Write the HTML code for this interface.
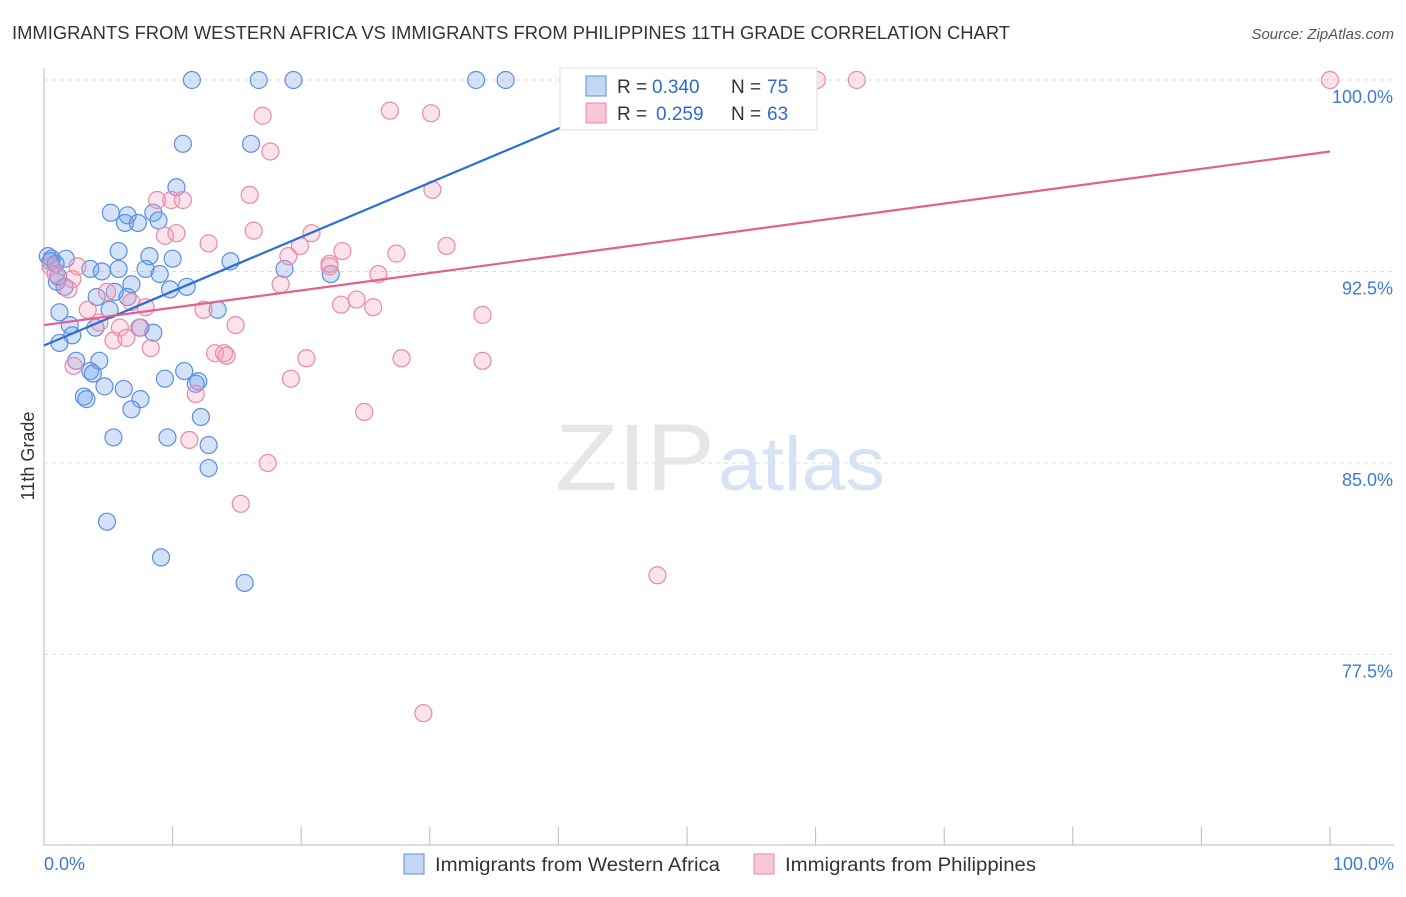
<!DOCTYPE html>
<html><head><meta charset="utf-8"><style>
body{margin:0;background:#fff;font-family:"Liberation Sans",sans-serif}
svg text{font-family:"Liberation Sans",sans-serif}
</style></head><body>
<svg width="1406" height="892" xmlns="http://www.w3.org/2000/svg">
<text x="12" y="39" font-size="18" fill="#333" textLength="998" lengthAdjust="spacingAndGlyphs">IMMIGRANTS FROM WESTERN AFRICA VS IMMIGRANTS FROM PHILIPPINES 11TH GRADE CORRELATION CHART</text>
<text x="1394" y="39" font-size="15" fill="#555" font-style="italic" text-anchor="end">Source: ZipAtlas.com</text>
<g id="grid"></g>
<text x="555" y="490" font-size="95" fill="#e6e6e6" textLength="160" lengthAdjust="spacingAndGlyphs" font-family="Liberation Serif">ZIP</text>
<text x="718" y="490" font-size="76" fill="#d6e3f5" textLength="167" lengthAdjust="spacingAndGlyphs">atlas</text>
<g id="axes"></g>
<g id="pts"></g>
<g id="trend"></g>
<g>
<rect x="560" y="68" width="257" height="62" fill="#fff" stroke="#ddd"/>
<rect x="586" y="76" width="20" height="20" fill="#c4d8f6" stroke="#5b8fe0"/>
<rect x="586" y="103" width="20" height="20" fill="#f8c8d6" stroke="#e88aa8"/>
<text x="617" y="93" font-size="19" fill="#333">R =</text>
<text x="652" y="93" font-size="19" fill="#2e6ad0">0.340</text>
<text x="731" y="93" font-size="19" fill="#333">N =</text>
<text x="767" y="93" font-size="19" fill="#2e6ad0">75</text>
<text x="617" y="120" font-size="19" fill="#333">R =</text>
<text x="656" y="120" font-size="19" fill="#2e6ad0">0.259</text>
<text x="731" y="120" font-size="19" fill="#333">N =</text>
<text x="767" y="120" font-size="19" fill="#2e6ad0">63</text>
</g>
<text x="34" y="456" font-size="18" fill="#333" text-anchor="middle" transform="rotate(-90 34 456)">11th Grade</text>
<text x="44" y="870" font-size="18" fill="#3d7ad6">0.0%</text>
<text x="1394" y="870" font-size="18" fill="#3d7ad6" text-anchor="end">100.0%</text>
<g>
<rect x="404" y="854" width="20" height="20" fill="#c4d8f6" stroke="#5b8fe0"/>
<text x="435" y="871" font-size="19" fill="#333" textLength="285" lengthAdjust="spacingAndGlyphs">Immigrants from Western Africa</text>
<rect x="754" y="854" width="20" height="20" fill="#f8c8d6" stroke="#e88aa8"/>
<text x="785" y="871" font-size="19" fill="#333" textLength="251" lengthAdjust="spacingAndGlyphs">Immigrants from Philippines</text>
</g>
</svg>
<script>
const yTicks=[100,92.5,85,77.5];
const yTickLabels=["100.0%","92.5%","85.0%","77.5%"];
const xTicks=[0,10,20,30,40,50,60,70,80,90,100];
const blueX=[11.5,16.7,19.4,33.6,35.9,10.8,16.1,10.3,5.2,6.5,8.5,6.3,7.3,8.9,0.3,0.6,1.7,5.8,8.2,10.0,14.5,3.6,4.5,5.8,7.9,9.0,18.7,22.3,1.0,1.6,6.8,11.1,9.8,5.5,4.1,6.5,13.5,5.1,1.2,2.0,4.0,7.5,8.5,2.2,1.2,2.5,4.3,3.6,3.8,10.9,9.4,12.0,11.8,4.7,6.2,3.1,3.3,7.5,6.8,12.2,5.4,9.6,12.8,12.8,4.9,9.1,15.6,0.5,0.9,1.1];
const blueY=[100,100,100,100,100,97.5,97.5,95.8,94.8,94.7,94.8,94.4,94.4,94.5,93.1,93.0,93.0,93.3,93.1,93.0,92.9,92.6,92.5,92.6,92.6,92.4,92.6,92.4,92.1,91.9,92.0,91.9,91.8,91.7,91.5,91.5,91.0,91.0,90.9,90.4,90.3,90.3,90.1,90.0,89.7,89.0,89.0,88.6,88.5,88.6,88.3,88.2,88.1,88.0,87.9,87.6,87.5,87.5,87.1,86.8,86.0,86.0,85.7,84.8,82.7,81.3,80.3,92.9,92.8,92.3];
const pinkX=[60.1,63.2,100,26.9,30.1,17.0,17.6,30.2,16.0,8.8,9.9,10.8,10.3,9.4,16.3,20.8,12.8,19.9,23.2,27.4,31.3,19.0,22.2,22.2,2.6,2.2,0.5,0.9,26.0,18.4,1.9,4.9,6.8,23.1,24.3,25.6,7.9,12.4,3.4,34.1,14.9,4.3,5.9,7.4,5.4,6.4,8.3,13.3,14.0,14.2,20.4,27.8,34.1,2.3,19.2,11.8,24.9,11.3,17.4,15.3,47.7,29.5];
const pinkY=[100,100,100,98.8,98.7,98.6,97.2,95.7,95.5,95.3,95.3,95.3,94.0,93.9,94.1,94.0,93.6,93.5,93.3,93.2,93.5,93.1,92.7,92.8,92.7,92.2,92.7,92.4,92.4,92.0,91.8,91.7,91.3,91.2,91.4,91.1,91.1,91.0,91.0,90.8,90.4,90.5,90.3,90.3,89.8,89.9,89.5,89.3,89.3,89.2,89.1,89.1,89.0,88.8,88.3,87.7,87.0,85.9,85.0,83.4,80.6,75.2];
const blueTrend=[89.6,98.1]; // at x=0 and x=40
const pinkTrend=[90.4,97.2]; // at x=0 and x=100
const NS="http://www.w3.org/2000/svg";
const X=v=>44+v*12.86, Y=v=>80+(100-v)*25.53;
function mk(tag,attrs,parent){const e=document.createElementNS(NS,tag);for(const k in attrs)e.setAttribute(k,attrs[k]);document.getElementById(parent).appendChild(e);return e;}
yTicks.forEach((t,i)=>{
 const l=mk('line',{x1:44,x2:1394,y1:Y(t),y2:Y(t),stroke:'#ddd','stroke-dasharray':'4,4'},'grid');
 
 
 const tx=mk('text',{x:1393,y:Y(t)+23,'font-size':18,fill:'#3d7ad6','text-anchor':'end'},'grid');
 tx.textContent=yTickLabels[i];
 
 
});
const ax=mk('line',{x1:44,x2:44,y1:68,y2:845,stroke:'#bbb'},'axes');


const bx=mk('line',{x1:44,x2:1394,y1:845,y2:845,stroke:'#bbb'},'axes');


xTicks.forEach(t=>{const l=mk('line',{x1:X(t),x2:X(t),y1:827,y2:845,stroke:'#bbb'},'axes');
 
 });
blueX.forEach((v,i)=>{const c=mk('circle',{cx:X(v),cy:Y(blueY[i]),r:8.5,fill:'rgba(110,160,235,0.3)',stroke:'#5b8fe0','stroke-width':1.2},'pts');
 
 });
pinkX.forEach((v,i)=>{const c=mk('circle',{cx:X(v),cy:Y(pinkY[i]),r:8.5,fill:'rgba(245,160,185,0.3)',stroke:'#e88aa8','stroke-width':1.2},'pts');
 
 });
const bx2=40*(100-blueTrend[0])/(blueTrend[1]-blueTrend[0]);
const tb=mk('line',{x1:X(0),y1:Y(blueTrend[0]),x2:X(bx2),y2:Y(100),stroke:'#2a6fd6','stroke-width':2.2},'trend');


const tp=mk('line',{x1:X(0),y1:Y(pinkTrend[0]),x2:X(100),y2:Y(pinkTrend[1]),stroke:'#e0608e','stroke-width':2.2},'trend');


</script>
</body></html>
